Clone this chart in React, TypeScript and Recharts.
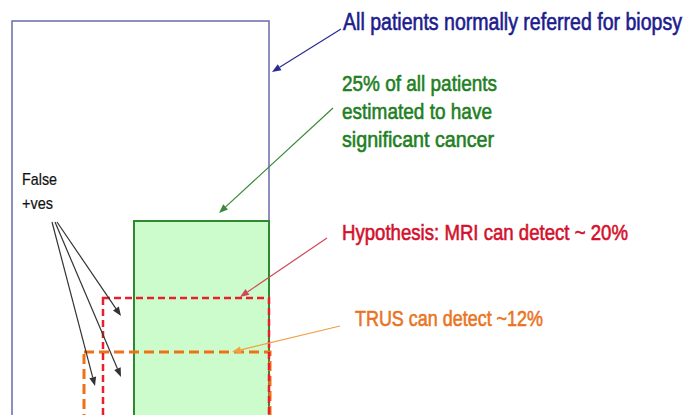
import {
  ComposedChart,
  XAxis,
  YAxis,
  ReferenceArea,
  ReferenceLine,
  ReferenceDot,
} from 'recharts';

// Levels are measured upward from the bottom edge of the picture
const boxNames = ['All patients', 'Significant cancer', 'TRUS', 'MRI'];
const boxLeft = [12, 134, 84, 103];
const boxRight = [269, 269, 270, 269];
const boxTop = [394, 194, 63, 117];
const boxBottom = -12;

const labelTexts = [
  ['All patients normally referred for biopsy'],
  ['25% of all patients', 'estimated to have', 'significant cancer'],
  ['TRUS can detect ~12%'],
  ['Hypothesis: MRI can detect ~ 20%'],
  ['False', '+ves'],
];
const labelX = [343, 342, 355, 342, 22];
const labelY = [385, 324, 89, 175, 230];

// arrows: from (x, y) to (x, y)
const arrowFromX = [341, 333, 340, 327, 57, 55, 52];
const arrowFromY = [386, 307, 89, 177, 193, 193, 193];
const arrowToX = [272, 219, 232, 240, 121, 121, 95];
const arrowToY = [343, 202, 63, 118, 99, 38, 29];

const BOX_STYLE = [
  { fill: '#ffffff', stroke: '#6a6aaa', strokeWidth: 1.5, dash: undefined },
  { fill: '#ccfccc', stroke: '#2f8a2f', strokeWidth: 2, dash: undefined },
  { fill: 'none', stroke: '#f07018', strokeWidth: 3, dash: '10 5' },
  { fill: 'none', stroke: '#e8202e', strokeWidth: 2.5, dash: '7 4' },
];

const LABEL_STYLE = [
  { color: '#1c1c8e', size: 23, widths: [339], gap: 0, weight: 0.6 },
  { color: '#1f7f1f', size: 22, widths: [155, 150, 152], gap: 28, weight: 0.6 },
  { color: '#ea741e', size: 22, widths: [188], gap: 0, weight: 0.6 },
  { color: '#d4102c', size: 22, widths: [286], gap: 0, weight: 0.6 },
  { color: '#111111', size: 17, widths: [35, 31], gap: 24, weight: 0.2 },
];

const ARROW_COLORS = ['#2a2a90', '#3a8a3a', '#f0a040', '#d04858', '#333333', '#333333', '#333333'];

const Arrow = (props: any) => {
  const { x1, y1, x2, y2, stroke } = props;
  const dx = x2 - x1;
  const dy = y2 - y1;
  const len = Math.sqrt(dx * dx + dy * dy) || 1;
  const ux = dx / len;
  const uy = dy / len;
  const head = 9;
  const half = 3.5;
  const bx = x2 - ux * head;
  const by = y2 - uy * head;
  const pts = `${x2},${y2} ${bx - uy * half},${by + ux * half} ${bx + uy * half},${by - ux * half}`;
  return (
    <g>
      <line x1={x1} y1={y1} x2={bx} y2={by} stroke={stroke} strokeWidth={1.2} />
      <polygon points={pts} fill={stroke} />
    </g>
  );
};

const makeLabel = (index: number) => (props: any) => {
  const { cx, cy } = props;
  const st = LABEL_STYLE[index];
  return (
    <g>
      {labelTexts[index].map((line, i) => (
        <text
          key={line}
          x={cx}
          y={cy + i * st.gap}
          fill={st.color}
          stroke={st.color}
          strokeWidth={st.weight}
          fontSize={st.size}
          fontFamily="'Liberation Sans Narrow', 'Liberation Sans', Arial, sans-serif"
          textLength={st.widths[i]}
          lengthAdjust="spacingAndGlyphs"
        >
          {line}
        </text>
      ))}
    </g>
  );
};

export default function App() {
  return (
    <div style={{ position: 'absolute', left: 0, top: 0, width: 685, height: 415, background: '#ffffff' }}>
      <ComposedChart width={685} height={415} data={[]} margin={{ top: 0, right: 0, bottom: 0, left: 0 }}>
        <XAxis type="number" dataKey="x" domain={[0, 685]} hide allowDataOverflow />
        <YAxis type="number" domain={[0, 415]} hide allowDataOverflow />
        {boxNames.map((name, i) => (
          <ReferenceArea
            key={name}
            x1={boxLeft[i]}
            x2={boxRight[i]}
            y1={boxBottom}
            y2={boxTop[i]}
            fill={BOX_STYLE[i].fill}
            fillOpacity={1}
            stroke={BOX_STYLE[i].stroke}
            strokeWidth={BOX_STYLE[i].strokeWidth}
            strokeDasharray={BOX_STYLE[i].dash}
            ifOverflow="visible"
          />
        ))}
        {arrowFromX.map((_, i) => (
          <ReferenceLine
            key={`arrow-${i}`}
            segment={[
              { x: arrowFromX[i], y: arrowFromY[i] },
              { x: arrowToX[i], y: arrowToY[i] },
            ]}
            stroke={ARROW_COLORS[i]}
            shape={Arrow}
            ifOverflow="visible"
          />
        ))}
        {labelTexts.map((_, i) => (
          <ReferenceDot
            key={`label-${i}`}
            x={labelX[i]}
            y={labelY[i]}
            r={0}
            shape={makeLabel(i)}
            ifOverflow="visible"
          />
        ))}
      </ComposedChart>
    </div>
  );
}
